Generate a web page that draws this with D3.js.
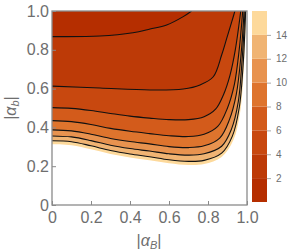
<!DOCTYPE html>
<html>
<head>
<meta charset="utf-8">
<script src="https://cdn.jsdelivr.net/npm/d3@7"></script>
<style>
  body { margin: 0; background: #fff; }
  svg text { font-family: "Liberation Sans", Arial, sans-serif; fill: #6e6e6e; }
</style>
</head>
<body>
<svg id="chart" width="300" height="252"></svg>
<script>
// contour lines, [ |alpha_B|, |alpha_b| ]
const contour2 = [[0, 0.868], [0.246, 0.871], [0.415, 0.888], [0.503, 0.907], [0.588, 0.928], [0.673, 0.971], [0.716, 1.0]];
const contour4 = [[0, 0.613], [0.246, 0.603], [0.503, 0.593], [0.673, 0.598], [0.759, 0.619], [0.827, 0.661], [0.870, 0.773], [0.896, 0.859], [0.922, 0.945], [0.938, 1.0]];
const contour6 = [[0, 0.502], [0.1, 0.498], [0.2, 0.487], [0.3, 0.472], [0.4, 0.458], [0.5, 0.448], [0.6, 0.44], [0.7, 0.44], [0.78, 0.455], [0.84, 0.495], [0.88, 0.57], [0.913, 0.67], [0.94, 0.8], [0.968, 1.0]];
const contour8 = [[0, 0.435], [0.1, 0.43], [0.2, 0.415], [0.3, 0.395], [0.4, 0.38], [0.5, 0.368], [0.6, 0.357], [0.7, 0.353], [0.78, 0.365], [0.85, 0.405], [0.9, 0.5], [0.935, 0.62], [0.96, 0.8], [0.978, 1.0]];
const contour10 = [[0, 0.387], [0.1, 0.382], [0.2, 0.365], [0.3, 0.343], [0.4, 0.327], [0.5, 0.315], [0.6, 0.301], [0.7, 0.296], [0.78, 0.305], [0.86, 0.345], [0.91, 0.44], [0.945, 0.57], [0.97, 0.78], [0.985, 1.0]];
const contour12 = [[0, 0.356], [0.1, 0.351], [0.2, 0.332], [0.3, 0.308], [0.4, 0.291], [0.5, 0.278], [0.6, 0.264], [0.7, 0.257], [0.78, 0.264], [0.87, 0.303], [0.92, 0.39], [0.955, 0.53], [0.975, 0.75], [0.99, 1.0]];
const contour14 = [[0, 0.331], [0.1, 0.326], [0.2, 0.305], [0.3, 0.281], [0.4, 0.263], [0.5, 0.249], [0.6, 0.233], [0.7, 0.225], [0.78, 0.23], [0.87, 0.267], [0.925, 0.355], [0.96, 0.5], [0.98, 0.72], [0.993, 1.0]];
const contour16 = [[0, 0.313], [0.1, 0.308], [0.2, 0.287], [0.3, 0.263], [0.4, 0.245], [0.5, 0.231], [0.6, 0.215], [0.7, 0.206], [0.78, 0.211], [0.87, 0.248], [0.93, 0.335], [0.965, 0.48], [0.984, 0.71], [0.997, 1.0]];

const levels = [2, 4, 6, 8, 10, 12, 14, 16];
const contours = [contour2, contour4, contour6, contour8, contour10, contour12, contour14, contour16];
const bandColors = ['#b52e00', '#bd3a07', '#c8480f', '#d35b1b', '#de742d', '#e8934f', '#f0b473', '#fdd99b'];

const xTicks = [0, 0.2, 0.4, 0.6, 0.8, 1.0];
const xTickLabels = ['0', '0.2', '0.4', '0.6', '0.8', '1.0'];
const yTicks = [0, 0.2, 0.4, 0.6, 0.8, 1.0];
const yTickLabels = ['0', '0.2', '0.4', '0.6', '0.8', '1.0'];
const legendTicks = [2, 4, 6, 8, 10, 12, 14];

const svg = d3.select('#chart');

const x = d3.scaleLinear().domain([0, 1]).range([52, 247]);
const y = d3.scaleLinear().domain([0, 1]).range([205, 11]);

svg.append('defs').append('clipPath')
	.attr('id', 'plotClip')
	.append('rect')
	.attr('x', x(0)).attr('y', y(1))
	.attr('width', x(1) - x(0)).attr('height', y(0) - y(1));

const line = d3.line()
	.x(d => x(d[0]))
	.y(d => y(d[1]))
	.curve(d3.curveCatmullRom);

const plot = svg.append('g').attr('clip-path', 'url(#plotClip)');

// filled bands, biggest region first, closed through the top-left corner
for (let i = contours.length - 1; i >= 0; i--) {
	plot.append('path')
		.attr('d', line(contours[i]) + 'L' + x(0) + ',' + y(1) + 'Z')
		.attr('fill', bandColors[i]);
}

// the contour lines (not the outer edge)
contours.slice(0, 7).forEach(c => {
	plot.append('path')
		.attr('d', line(c))
		.attr('fill', 'none')
		.attr('stroke', '#111')
		.attr('stroke-width', 1.1);
});

// axes
const xAxis = svg.append('g')
	.attr('transform', 'translate(0,' + y(0) + ')')
	.call(d3.axisBottom(x).tickValues(xTicks).tickFormat((d, i) => xTickLabels[i]).tickSize(-4).tickPadding(7));

const yAxis = svg.append('g')
	.attr('transform', 'translate(' + x(0) + ',0)')
	.call(d3.axisLeft(y).tickValues(yTicks).tickFormat((d, i) => yTickLabels[i]).tickSize(-4).tickPadding(3));

[xAxis, yAxis].forEach(g => {
	g.select('.domain').remove();
	g.selectAll('line').attr('stroke', '#8a8a8a');
	g.selectAll('text').style('font-size', '16px').style('fill', '#6e6e6e');
});

// frame
svg.append('rect')
	.attr('x', x(0)).attr('y', y(1))
	.attr('width', x(1) - x(0)).attr('height', y(0) - y(1))
	.attr('fill', 'none')
	.attr('stroke', '#8a8a8a')
	.attr('stroke-width', 1.3);

// axis titles
svg.append('text')
	.attr('x', 149).attr('y', 246)
	.attr('text-anchor', 'middle')
	.style('font-size', '16px')
	.html('|<tspan font-style="italic">α</tspan><tspan font-style="italic" font-size="11px" dy="3">B</tspan><tspan dy="-3">|</tspan>');

svg.append('text')
	.attr('transform', 'translate(16,108) rotate(-90)')
	.attr('text-anchor', 'middle')
	.style('font-size', '16px')
	.html('|<tspan font-style="italic">α</tspan><tspan font-style="italic" font-size="11px" dy="3">b</tspan><tspan dy="-3">|</tspan>');

// legend
const ly = d3.scaleLinear().domain([0, 16]).range([202, 11]);
const legendBands = levels.map((lv, i) => ({ lo: lv - 2, hi: lv, color: bandColors[i] }));

svg.append('g').selectAll('rect')
	.data(legendBands)
	.enter()
	.append('rect')
	.attr('x', 252)
	.attr('width', 15)
	.attr('y', d => ly(d.hi))
	.attr('height', d => ly(d.lo) - ly(d.hi))
	.attr('fill', d => d.color);

const legendAxis = svg.append('g')
	.attr('transform', 'translate(267,0)')
	.call(d3.axisRight(ly).tickValues(legendTicks).tickSize(4).tickPadding(5));

legendAxis.select('.domain').remove();
legendAxis.selectAll('line').attr('stroke', '#aaa');
legendAxis.selectAll('text').style('font-size', '10px').style('fill', '#6e6e6e');
</script>
</body>
</html>
